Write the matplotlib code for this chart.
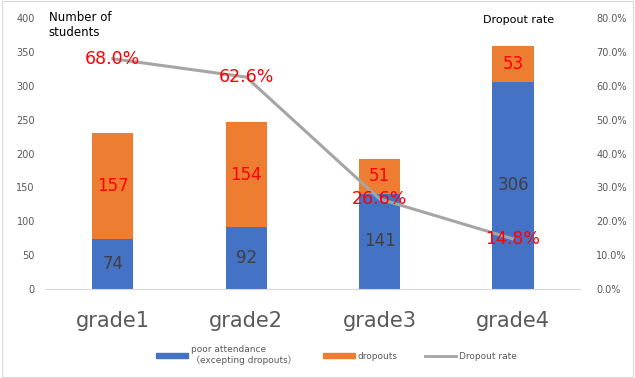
import numpy as np
import matplotlib
matplotlib.use("Agg")
import matplotlib.pyplot as plt
from matplotlib.lines import Line2D
from matplotlib.patches import Patch, Rectangle

plt.rcParams['font.family'] = ['DejaVu Sans', 'Noto Sans CJK JP']

# data
grades = ['grade1', 'grade2', 'grade3', 'grade4']
poor_attendance = [74, 92, 141, 306]
dropouts = [157, 154, 51, 53]
dropout_rate = [68.0, 62.6, 26.6, 14.8]

blue = '#4472C4'
orange = '#ED7D31'
gray = '#A5A5A5'
txt = '#595959'
red = '#FF0000'

fig = plt.figure(figsize=(6.35, 3.78), dpi=100)
ax = fig.add_axes([0.0725, 0.2354, 0.8405, 0.7166])
ax2 = ax.twinx()

x = np.arange(len(grades))
w = 0.31
ax.bar(x, poor_attendance, w, color=blue, zorder=2)
ax.bar(x, dropouts, w, bottom=poor_attendance, color=orange, zorder=2)

for i in range(len(grades)):
    ax.text(x[i], poor_attendance[i] / 2, str(poor_attendance[i]), ha='center', va='center',
            fontsize=12, color='#404040', zorder=3)
    ax.text(x[i], poor_attendance[i] + dropouts[i] / 2, str(dropouts[i]), ha='center', va='center',
            fontsize=12, color=red, zorder=3)

ax.set_xlim(-0.5, 3.5)
ax.set_ylim(0, 400)
ax.set_yticks(range(0, 401, 50))
ax.set_xticks(x)
ax.set_xticklabels(grades, fontsize=15, color=txt)
ax.tick_params(axis='x', length=0, pad=16)
ax.tick_params(axis='y', length=0, labelsize=7, labelcolor=txt, pad=8)

ax2.plot(x, dropout_rate, color=gray, lw=2.2, zorder=4)
for i in range(len(grades)):
    ax2.text(x[i], dropout_rate[i], f'{dropout_rate[i]:.1f}%', ha='center', va='center',
             fontsize=12.5, color=red, zorder=5)
ax2.set_ylim(0, 80)
ax2.set_yticks(range(0, 81, 10))
ax2.set_yticklabels([f'{v:.1f}%' for v in range(0, 81, 10)])
ax2.tick_params(axis='y', length=0, labelsize=7, labelcolor=txt, pad=12)

for a in (ax, ax2):
    for s in a.spines.values():
        s.set_visible(False)
ax.spines['bottom'].set_visible(True)
ax.spines['bottom'].set_color('#D9D9D9')

fig.text(0.077, 0.97, 'Number of\nstudents', fontsize=8.5, va='top', ha='left', color='black', linespacing=1.15)
fig.text(0.873, 0.96, 'Dropout rate', fontsize=8, va='top', ha='right', color='black')

handles = [Patch(color=blue), Patch(color=orange), Line2D([], [], color=gray, lw=2)]
labels = ['poor attendance\n\uff08excepting dropouts\uff09', 'dropouts', 'Dropout rate']
fig.legend(handles, labels, loc='center', bbox_to_anchor=(0.53, 0.06), ncol=3, frameon=False,
           fontsize=6.5, labelcolor=txt, handlelength=3.5, handleheight=0.5, columnspacing=3,
           handletextpad=0.3)

fig.patches.append(Rectangle((0.003, 0.003), 0.994, 0.994, transform=fig.transFigure,
                             fill=False, edgecolor='#D9D9D9', lw=0.8))

fig.savefig('out.png', dpi=100)
